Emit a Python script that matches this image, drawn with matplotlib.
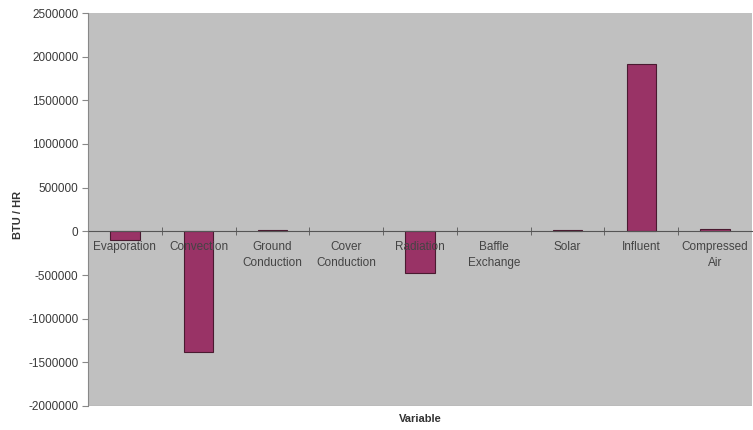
import numpy as np
import matplotlib.pyplot as plt
from matplotlib.ticker import FixedLocator

plt.rcParams['font.family'] = ['Liberation Sans', 'DejaVu Sans']

categories = ["Evaporation", "Convection", "Ground\nConduction", "Cover\nConduction",
              "Radiation", "Baffle\nExchange", "Solar", "Influent", "Compressed\nAir"]
btu_hr = [-100000, -1385000, 20000, 0, -480000, 0, 12000, 1920000, 25000]
y_ticks = np.arange(-2000000, 2500001, 500000)

fig = plt.figure(figsize=(7.53, 4.30), dpi=100)
ax = fig.add_axes([88 / 753, 24 / 430, 664 / 753, 393 / 430])
ax.set_facecolor("#c0c0c0")
ax.set_axisbelow(False)  # category labels drawn over the bars

x = np.arange(len(categories))
ax.bar(x, btu_hr, width=0.4, color="#993366", edgecolor="#4a1a30",
       linewidth=[0.8 if v != 0 else 0 for v in btu_hr], zorder=2)

ax.set_xlim(-0.5, len(categories) - 0.5)
ax.set_ylim(-2000000, 2500000)
ax.set_yticks(y_ticks)
ax.set_yticklabels([str(v) for v in y_ticks], fontsize=8.5, color="#3a3a3a")

for s in ["top", "right"]:
    ax.spines[s].set_visible(False)
ax.spines["bottom"].set_position(("data", 0))
ax.spines["bottom"].set_color("#555555")
ax.spines["left"].set_color("#888888")

ax.set_xticks(x)
ax.set_xticklabels(categories, fontsize=8.5, color="#444444", linespacing=1.4)
ax.tick_params(axis="x", which="major", length=0, pad=7)
ax.xaxis.set_minor_locator(FixedLocator(x[:-1] + 0.5))
ax.tick_params(axis="x", which="minor", length=6, direction="inout", color="#555555")
ax.tick_params(axis="y", length=4, color="#888888", pad=3)
ax.axhline(-2000000, color="#a8a8a8", linewidth=1, zorder=1)

fig.text(0.5 + 44 / 753, 6 / 430, "Variable", ha="center", va="bottom",
         fontsize=8, fontweight="bold", color="#333333")
fig.text(18 / 753, (430 - 215) / 430, "BTU / HR", ha="center", va="center",
         rotation=90, fontsize=8, fontweight="bold", color="#333333")

fig.savefig("out.png", dpi=100)
